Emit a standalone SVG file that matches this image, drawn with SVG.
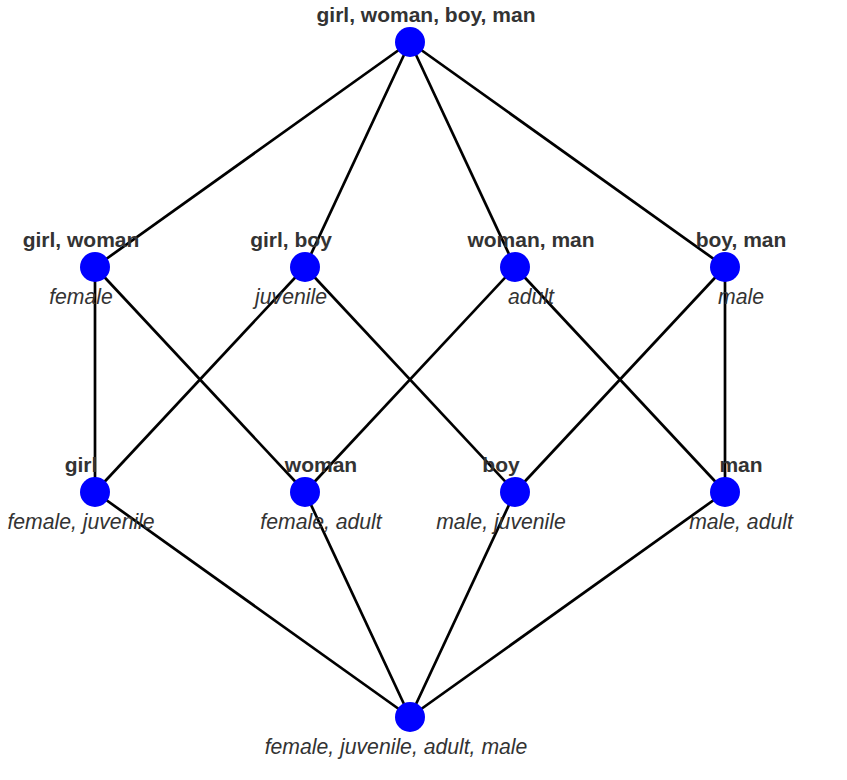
<svg xmlns="http://www.w3.org/2000/svg" width="847" height="780" viewBox="0 0 847 780">
  <style>
    .edge { stroke: #000; stroke-width: 2.7; fill: none; }
    .node circle { fill: #0000ff; }
    .obj { font-family: "Liberation Sans", Arial, sans-serif; font-weight: bold; font-size: 21px; fill: #333; text-anchor: middle; }
    .attr { font-family: "Liberation Sans", Arial, sans-serif; font-style: italic; font-size: 21.2px; fill: #333; text-anchor: middle; }
  </style>
  <rect width="847" height="780" fill="#fff"/>
  <g id="connectors">
    <line class="edge" x1="410" y1="42" x2="95" y2="267"/>
    <line class="edge" x1="410" y1="42" x2="305" y2="267"/>
    <line class="edge" x1="410" y1="42" x2="515" y2="267"/>
    <line class="edge" x1="410" y1="42" x2="725" y2="267"/>
    <line class="edge" x1="95" y1="267" x2="95" y2="492"/>
    <line class="edge" x1="95" y1="267" x2="305" y2="492"/>
    <line class="edge" x1="305" y1="267" x2="95" y2="492"/>
    <line class="edge" x1="305" y1="267" x2="515" y2="492"/>
    <line class="edge" x1="515" y1="267" x2="305" y2="492"/>
    <line class="edge" x1="515" y1="267" x2="725" y2="492"/>
    <line class="edge" x1="725" y1="267" x2="515" y2="492"/>
    <line class="edge" x1="725" y1="267" x2="725" y2="492"/>
    <line class="edge" x1="95" y1="492" x2="410" y2="717"/>
    <line class="edge" x1="305" y1="492" x2="410" y2="717"/>
    <line class="edge" x1="515" y1="492" x2="410" y2="717"/>
    <line class="edge" x1="725" y1="492" x2="410" y2="717"/>
  </g>
  <g id="node-top" class="node">
    <circle cx="410" cy="42" r="15"/>
    <text class="obj" x="426" y="22">girl, woman, boy, man</text>
  </g>
  <g id="node-girl-woman" class="node">
    <circle cx="95" cy="267" r="15"/>
    <text class="obj" x="81" y="247">girl, woman</text>
    <text class="attr" x="81" y="304">female</text>
  </g>
  <g id="node-girl-boy" class="node">
    <circle cx="305" cy="267" r="15"/>
    <text class="obj" x="291" y="247">girl, boy</text>
    <text class="attr" x="291" y="304">juvenile</text>
  </g>
  <g id="node-woman-man" class="node">
    <circle cx="515" cy="267" r="15"/>
    <text class="obj" x="531" y="247">woman, man</text>
    <text class="attr" x="531" y="304">adult</text>
  </g>
  <g id="node-boy-man" class="node">
    <circle cx="725" cy="267" r="15"/>
    <text class="obj" x="741" y="247">boy, man</text>
    <text class="attr" x="741" y="304">male</text>
  </g>
  <g id="node-girl" class="node">
    <circle cx="95" cy="492" r="15"/>
    <text class="obj" x="81" y="472">girl</text>
    <text class="attr" x="81" y="529">female, juvenile</text>
  </g>
  <g id="node-woman" class="node">
    <circle cx="305" cy="492" r="15"/>
    <text class="obj" x="321" y="472">woman</text>
    <text class="attr" x="321" y="529">female, adult</text>
  </g>
  <g id="node-boy" class="node">
    <circle cx="515" cy="492" r="15"/>
    <text class="obj" x="501" y="472">boy</text>
    <text class="attr" x="501" y="529">male, juvenile</text>
  </g>
  <g id="node-man" class="node">
    <circle cx="725" cy="492" r="15"/>
    <text class="obj" x="741" y="472">man</text>
    <text class="attr" x="741" y="529">male, adult</text>
  </g>
  <g id="node-bottom" class="node">
    <circle cx="410" cy="717" r="15"/>
    <text class="attr" x="396" y="754">female, juvenile, adult, male</text>
  </g>
</svg>
